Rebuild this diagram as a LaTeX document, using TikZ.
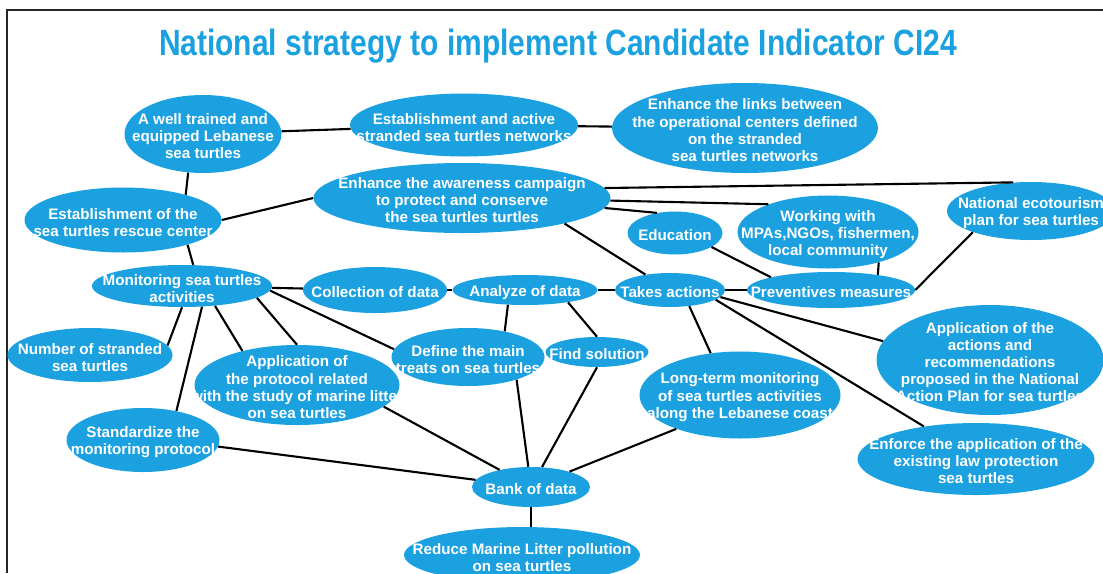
\documentclass[tikz,border=0pt]{standalone}
\usepackage{fontspec}
\setmainfont{Liberation Sans}
\usetikzlibrary{shapes.geometric}
\definecolor{turtleblue}{RGB}{27,161,224}

\begin{document}
\begin{tikzpicture}[x=0.025cm, y=-0.025cm,
  blob/.style n args={3}{ellipse, fill=turtleblue, inner sep=0pt,
    minimum width=#1*0.025cm, minimum height=#2*0.025cm,
    label={[blobtext]center:{#3}}},
  blobtext/.style={text=white, align=center, inner sep=0pt, yshift=-1.6pt,
    font=\bfseries\fontsize{10.8}{12.2}\selectfont},
  link/.style={line width=1.5pt}]
  \useasboundingbox (0,0) rectangle (1103,573);
  \draw[line width=1.8pt, black!85] (7,573) -- (7,10) -- (1103,10);

  \node[text=turtleblue, font=\bfseries\fontsize{26}{30}\selectfont] (title) at (558,46)
    {\scalebox{0.82}[1]{National strategy to implement Candidate Indicator CI24}};

  % top row
  \node[blob={157}{78}{A well trained and\\equipped Lebanese\\sea turtles}] (trained) at (203,134) {};
  \node[blob={228}{63}{Establishment and active\\stranded sea turtles networks}] (networks) at (464,125) {};
  \node[blob={266}{90}{Enhance the links between\\the operational centers defined\\on the stranded\\sea turtles networks}] (links) at (745,128) {};

  % awareness
  \node[blob={197}{65}{Establishment of the\\sea turtles rescue center}] (rescue) at (123,220) {};
  \node[blob={297}{70}{Enhance the awareness campaign\\to protect and conserve\\the sea turtles turtles}] (aware) at (462,198) {};
  \node[blob={95}{43}{Education}] (edu) at (675,233) {};
  \node[blob={181}{73}{Working with\\MPAs,NGOs, fishermen,\\local community}] (working) at (828,232) {};
  \node[blob={168}{58}{National ecotourism\\plan for sea turtles}] (ecotour) at (1031,211) {};

  % middle row
  \node[blob={180}{42}{Monitoring sea turtles\\activities}] (monitor) at (182,286) {};
  \node[blob={144}{46}{Collection of data}] (collect) at (375,290) {};
  \node[blob={145}{30}{Analyze of data}] (analyze) at (525,290) {};
  \node[blob={110}{34}{Takes actions}] (takes) at (670,290) {};
  \node[blob={168}{36}{Preventives measures}] (prevent) at (831,290) {};

  % lower part
  \node[blob={165}{54}{Number of stranded\\sea turtles}] (number) at (90,355) {};
  \node[blob={205}{80}{Application of\\the protocol related\\with the study of marine litter\\on sea turtles}] (protocol) at (297,385) {};
  \node[blob={153}{58}{Define the main\\treats on sea turtles}] (define) at (468,357) {};
  \node[blob={103}{30}{Find solution}] (solution) at (597,352) {};
  \node[blob={201}{87}{Long-term monitoring\\of sea turtles activities\\along the Lebanese coast}] (longterm) at (740,395) {};
  \node[blob={227}{110}{Application of the\\actions and\\recommendations\\proposed in the National\\Action Plan for sea turtles}] (actions) at (990,360) {};
  \node[blob={237}{72}{Enforce the application of the\\existing law protection\\sea turtles}] (enforce) at (976,459) {};
  \node[blob={153}{64}{Standardize the\\monitoring protocol}] (standard) at (143,440) {};
  \node[blob={118}{40}{Bank of data}] (bank) at (531,487) {};
  \node[blob={236}{56}{Reduce Marine Litter pollution\\on sea turtles}] (reduce) at (522,555) {};

  \draw[link] (trained) -- (networks);
  \draw[link] (networks) -- (links);
  \draw[link] (trained.-111) -- (rescue.22);
  \draw[link] (rescue.east) -- (aware.west);
  \draw[link] (rescue.-21) -- (monitor.62);

  \draw[link] (aware.4) -- (ecotour.122);
  \draw[link] (aware.-1) -- (working.155);
  \draw[link] (aware.-4) -- (edu.132);
  \draw[link] (aware.-14) -- (takes);
  \draw[link] (edu.-21) -- (prevent.168);
  \draw[link] (working.-31) -- (prevent.18);
  \draw[link] (prevent.east) -- (ecotour.200);

  \draw[link] (monitor) -- (collect);
  \draw[link] (collect) -- (analyze);
  \draw[link] (analyze) -- (takes);
  \draw[link] (takes) -- (prevent);

  \draw[link] (takes.-8) -- (actions.170);
  \draw[link] (takes.-12) -- (enforce.148);
  \draw[link] (takes.-40) -- (longterm.125);
  \draw[link] (analyze.-139) -- (define.35);
  \draw[link] (analyze.-16) -- (solution.north);

  \draw[link] (monitor.-3) -- (define.174);
  \draw[link] (monitor.-9) -- (protocol.north);
  \draw[link] (monitor.-31) -- (protocol.148);
  \draw[link] (monitor.south) -- (number.7);
  \draw[link] (monitor.-46) -- (standard.41);

  \draw[link] (protocol.-14) -- (bank);
  \draw[link] (define.-25) -- (bank);
  \draw[link] (solution.south) -- (bank);
  \draw[link] (longterm.-152) -- (bank);
  \draw[link] (standard.-5) -- (bank);
  \draw[link] (bank.south) -- (reduce.north -| bank.south);
\end{tikzpicture}
\end{document}
